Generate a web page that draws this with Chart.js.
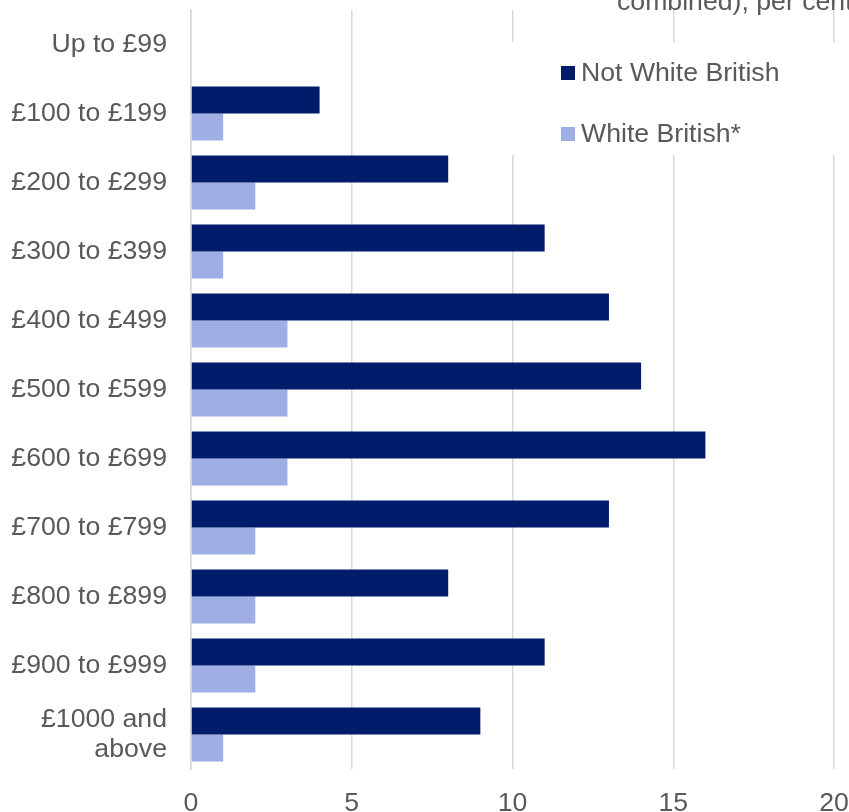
<!DOCTYPE html>
<html>
<head>
<meta charset="utf-8">
<script src="https://cdn.jsdelivr.net/npm/chart.js@4.4.1/dist/chart.umd.min.js"></script>
<style>
html,body{margin:0;padding:0;background:#fff;}
#wrap{width:849px;height:812px;position:relative;}
</style>
</head>
<body>
<div id="wrap"><canvas id="c" width="849" height="812"></canvas></div>
<script>
const categories = ["Up to £99","£100 to £199","£200 to £299","£300 to £399","£400 to £499","£500 to £599","£600 to £699","£700 to £799","£800 to £899","£900 to £999",["£1000 and","above"]];
const notWhiteBritish = [0,4,8,11,13,14,16,13,8,11,9];
const whiteBritish = [0,1,2,1,3,3,3,2,2,2,1];
const seriesNames = ["Not White British","White British*"];
const seriesColors = ["#001C6B","#9FAEE5"];
const titleFragment = "combined), per cent";
const xTicks = [0,5,10,15,20];

const FONT = "'Liberation Sans', Arial, sans-serif";
const TXT = "#595959";

function noPad(s){ s.paddingTop = 0; s.paddingBottom = 0; s.paddingLeft = 0; s.paddingRight = 0; }

const overlay = {
  id:'overlay',
  beforeDatasetsDraw(chart){
    const ctx = chart.ctx;
    ctx.save();
    ctx.fillStyle = '#fff';
    ctx.fillRect(500, 42, 349, 113);
    ctx.restore();
  },
  afterDraw(chart){
    const ctx = chart.ctx;
    ctx.save();
    ctx.font = "26.67px " + FONT;
    ctx.fillStyle = TXT;
    ctx.textBaseline = 'alphabetic';
    ctx.textAlign = 'left';
    ctx.fillText(titleFragment, 617, 10);
    const ys = [73, 134];
    seriesNames.forEach((n,i)=>{
      ctx.fillStyle = seriesColors[i];
      ctx.fillRect(561, ys[i]-7, 14, 14);
      ctx.fillStyle = TXT;
      ctx.textBaseline = 'middle';
      ctx.fillText(n, 581, ys[i]+1);
    });
    ctx.restore();
  }
};

new Chart(document.getElementById('c'), {
  type:'bar',
  data:{
    labels:categories,
    datasets:[
      {label:seriesNames[0], data:notWhiteBritish, backgroundColor:seriesColors[0], categoryPercentage:0.78, barPercentage:1.0},
      {label:seriesNames[1], data:whiteBritish, backgroundColor:seriesColors[1], categoryPercentage:0.78, barPercentage:1.0}
    ]
  },
  options:{
    indexAxis:'y',
    responsive:false,
    animation:false,
    layout:{padding:{top:10,right:15,left:0,bottom:0}},
    plugins:{legend:{display:false},title:{display:false},tooltip:{enabled:false}},
    scales:{
      x:{
        min:0,max:20,
        afterBuildTicks(s){ s.ticks = xTicks.map(v=>({value:v})); },
        afterFit(s){ s.height = 43; noPad(s); },
        grid:{color:'#D9D9D9',lineWidth:1.5,drawTicks:false},
        border:{display:false},
        ticks:{color:TXT,font:{family:FONT,size:26.67},padding:19,maxRotation:0}
      },
      y:{
        afterFit(s){ s.width = 191; noPad(s); },
        grid:{display:false,drawTicks:false},
        border:{display:true,color:'#D9D9D9',width:1.5},
        ticks:{color:TXT,font:{family:FONT,size:26.67,lineHeight:1.1},padding:24}
      }
    }
  },
  plugins:[overlay]
});
</script>
</body>
</html>
